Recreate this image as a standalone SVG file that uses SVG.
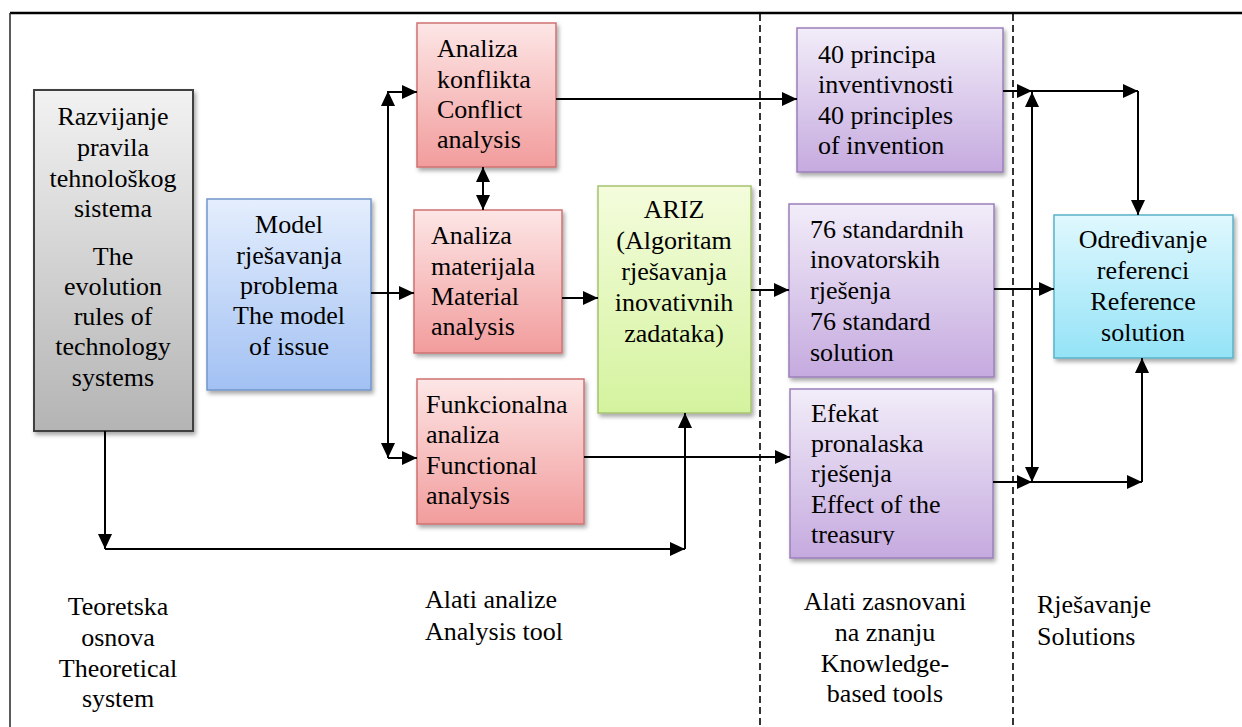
<svg xmlns="http://www.w3.org/2000/svg" width="1242" height="727" viewBox="0 0 1242 727">
<style>
text{font-family:'Liberation Serif','Times New Roman',Times,'DejaVu Serif',serif;font-size:26px;fill:#000}
.c{text-anchor:middle}
.ah{stroke:#000;stroke-width:2;fill:none;marker-end:url(#ar)}
.ab{stroke:#000;stroke-width:2;fill:none;marker-end:url(#ar);marker-start:url(#ar)}
.dash{stroke:#000;stroke-width:1.6;stroke-dasharray:7 4;fill:none}
.box{filter:url(#sh)}
</style>
<defs>
<marker id="ar" viewBox="0 0 15 14" refX="15" refY="7" markerWidth="15" markerHeight="14" markerUnits="userSpaceOnUse" orient="auto-start-reverse">
<path d="M0,0 L15,7 L0,14 z" fill="#000"/>
</marker>
<filter id="sh" x="-10%" y="-10%" width="130%" height="130%">
<feDropShadow dx="2" dy="3" stdDeviation="2" flood-color="#000" flood-opacity="0.35"/>
</filter>
<linearGradient id="gGray" x1="0" y1="0" x2="0" y2="1"><stop offset="0" stop-color="#f2f2f2"/><stop offset="1" stop-color="#b4b4b4"/></linearGradient>
<linearGradient id="gBlue" x1="0" y1="0" x2="0" y2="1"><stop offset="0" stop-color="#e4eefd"/><stop offset="1" stop-color="#a2c1f3"/></linearGradient>
<linearGradient id="gRed" x1="0" y1="0" x2="0" y2="1"><stop offset="0" stop-color="#fde6e6"/><stop offset="1" stop-color="#f29c9c"/></linearGradient>
<linearGradient id="gGreen" x1="0" y1="0" x2="0" y2="1"><stop offset="0" stop-color="#f4fcdc"/><stop offset="1" stop-color="#d4f39e"/></linearGradient>
<linearGradient id="gPurple" x1="0" y1="0" x2="0" y2="1"><stop offset="0" stop-color="#f2edf9"/><stop offset="1" stop-color="#c5aadf"/></linearGradient>
<linearGradient id="gCyan" x1="0" y1="0" x2="0" y2="1"><stop offset="0" stop-color="#e0f8fe"/><stop offset="1" stop-color="#94e3f7"/></linearGradient>
<clipPath id="clipEf"><rect x="790" y="389" width="203" height="156"/></clipPath>
</defs>
<rect width="1242" height="727" fill="#fff"/>

<g id="frame">
<line x1="10" y1="13" x2="1242" y2="13" stroke="#000" stroke-width="2.5"/>
<line x1="10" y1="13" x2="10" y2="727" stroke="#333" stroke-width="1.6"/>
<line class="dash" x1="760" y1="14" x2="760" y2="727"/>
<line class="dash" x1="1013" y1="14" x2="1013" y2="727"/>
</g>

<g font-family="'Liberation Serif', 'Times New Roman', Times, 'DejaVu Serif', serif">
<g id="node-gray">
<rect class="box" x="34" y="90" width="159" height="341" fill="url(#gGray)" stroke="#404040" stroke-width="2"/>
<text class="c" x="113" y="125">Razvijanje</text>
<text class="c" x="113" y="156">pravila</text>
<text class="c" x="113" y="187">tehnološkog</text>
<text class="c" x="113" y="217">sistema</text>
<text class="c" x="113" y="265">The</text>
<text class="c" x="113" y="295">evolution</text>
<text class="c" x="113" y="325">rules of</text>
<text class="c" x="113" y="355">technology</text>
<text class="c" x="113" y="386">systems</text>
</g>

<g id="node-blue">
<rect class="box" x="207" y="199" width="164" height="191" fill="url(#gBlue)" stroke="#7196cb" stroke-width="1.5"/>
<text class="c" x="289" y="233">Model</text>
<text class="c" x="289" y="264">rješavanja</text>
<text class="c" x="289" y="294">problema</text>
<text class="c" x="289" y="324">The model</text>
<text class="c" x="289" y="355">of issue</text>
</g>

<g id="node-conflict">
<rect class="box" x="417" y="23" width="139" height="144" fill="url(#gRed)" stroke="#d07272" stroke-width="1.5"/>
<text x="437" y="57">Analiza</text>
<text x="437" y="88">konflikta</text>
<text x="437" y="118">Conflict</text>
<text x="437" y="148">analysis</text>
</g>

<g id="node-material">
<rect class="box" x="414" y="210" width="148" height="143" fill="url(#gRed)" stroke="#d07272" stroke-width="1.5"/>
<text x="431" y="244">Analiza</text>
<text x="431" y="275">materijala</text>
<text x="431" y="305">Material</text>
<text x="431" y="335">analysis</text>
</g>

<g id="node-functional">
<rect class="box" x="417" y="379" width="167" height="145" fill="url(#gRed)" stroke="#d07272" stroke-width="1.5"/>
<text x="426" y="413">Funkcionalna</text>
<text x="426" y="443">analiza</text>
<text x="426" y="474">Functional</text>
<text x="426" y="504">analysis</text>
</g>

<g id="node-ariz">
<rect class="box" x="598" y="186" width="153" height="227" fill="url(#gGreen)" stroke="#a6c270" stroke-width="1.5"/>
<text class="c" x="674" y="218">ARIZ</text>
<text class="c" x="674" y="249">(Algoritam</text>
<text class="c" x="674" y="280">rješavanja</text>
<text class="c" x="674" y="311">inovativnih</text>
<text class="c" x="674" y="342">zadataka)</text>
</g>

<g id="node-40">
<rect class="box" x="797" y="28" width="206" height="144" fill="url(#gPurple)" stroke="#9a7fbb" stroke-width="1.5"/>
<text x="818" y="63">40 principa</text>
<text x="818" y="93">inventivnosti</text>
<text x="818" y="124">40 principles</text>
<text x="818" y="154">of invention</text>
</g>

<g id="node-76">
<rect class="box" x="789" y="204" width="205" height="173" fill="url(#gPurple)" stroke="#9a7fbb" stroke-width="1.5"/>
<text x="810" y="238">76 standardnih</text>
<text x="810" y="268">inovatorskih</text>
<text x="810" y="299">rješenja</text>
<text x="810" y="330">76 standard</text>
<text x="810" y="361">solution</text>
</g>

<g id="node-efekat">
<rect class="box" x="790" y="389" width="203" height="169" fill="url(#gPurple)" stroke="#9a7fbb" stroke-width="1.5"/>
<g clip-path="url(#clipEf)">
<text x="811" y="422">Efekat</text>
<text x="811" y="452">pronalaska</text>
<text x="811" y="482">rješenja</text>
<text x="811" y="513">Effect of the</text>
<text x="811" y="543">treasury</text>
</g>
</g>

<g id="node-reference">
<rect class="box" x="1054" y="215" width="179" height="143" fill="url(#gCyan)" stroke="#58b3c9" stroke-width="1.5"/>
<text class="c" x="1143" y="248">Određivanje</text>
<text class="c" x="1143" y="279">referenci</text>
<text class="c" x="1143" y="310">Reference</text>
<text class="c" x="1143" y="341">solution</text>
</g>

<g id="labels">
<text class="c" x="118" y="615">Teoretska</text>
<text class="c" x="118" y="646">osnova</text>
<text class="c" x="118" y="677">Theoretical</text>
<text class="c" x="118" y="707">system</text>
<text x="425" y="608">Alati analize</text>
<text x="425" y="640">Analysis tool</text>
<text class="c" x="885" y="610">Alati zasnovani</text>
<text class="c" x="885" y="641">na znanju</text>
<text class="c" x="885" y="672">Knowledge-</text>
<text class="c" x="885" y="702">based tools</text>
<text x="1037" y="613">Rješavanje</text>
<text x="1037" y="645">Solutions</text>
</g>
</g>

<g id="connectors">
<line class="ah" x1="371" y1="293" x2="414" y2="293"/>
<line class="ab" x1="388" y1="458" x2="388" y2="91"/>
<line class="ah" x1="388" y1="92" x2="417" y2="92"/>
<line class="ah" x1="388" y1="458" x2="417" y2="458"/>
<line class="ab" x1="483" y1="167" x2="483" y2="210"/>
<line class="ah" x1="562" y1="298" x2="598" y2="298"/>
<line class="ah" x1="556" y1="99" x2="797" y2="99"/>
<line class="ah" x1="751" y1="290" x2="789" y2="290"/>
<line class="ah" x1="584" y1="457" x2="790" y2="457"/>
<line class="ah" x1="105" y1="431" x2="105" y2="549"/>
<line class="ah" x1="105" y1="549" x2="685" y2="549"/>
<line class="ah" x1="685" y1="549" x2="685" y2="413"/>
<line class="ah" x1="1003" y1="91" x2="1032" y2="91"/>
<line class="ab" x1="1032" y1="482" x2="1032" y2="92"/>
<line class="ah" x1="1032" y1="91" x2="1138" y2="91"/>
<line class="ah" x1="1138" y1="91" x2="1138" y2="215"/>
<line class="ah" x1="994" y1="289" x2="1054" y2="289"/>
<line class="ah" x1="993" y1="482" x2="1032" y2="482"/>
<line class="ah" x1="1032" y1="482" x2="1142" y2="482"/>
<line class="ah" x1="1142" y1="482" x2="1142" y2="358"/>
</g>
</svg>
